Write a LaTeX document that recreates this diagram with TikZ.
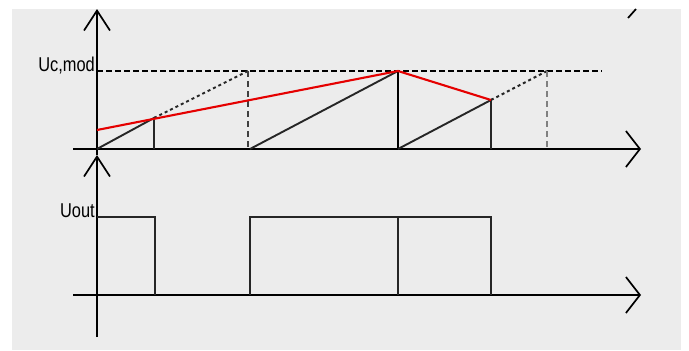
\documentclass[tikz,border=0pt]{standalone}
\usepackage{fontspec}
\newfontfamily\labelfont[FakeStretch=0.82]{Liberation Sans}
\usepackage{tikz}
\usetikzlibrary{arrows.meta}

\begin{document}
\begin{tikzpicture}[
  x=1pt, y=-1pt,
  axis/.style={line width=2.1pt, -{Straight Barb[length=14pt, width=36pt, line width=1.7pt]}},
  yaxis/.style={line width=2.1pt, -{Straight Barb[length=20pt, width=26pt, line width=1.7pt]}},
  wave/.style={line width=1.9pt, black!85},
  level/.style={line width=2pt, dash pattern=on 6pt off 3pt},
  dotline/.style={line width=2pt, black!85, dash pattern=on 3pt off 3pt},
  drop/.style={line width=1.6pt, dash pattern=on 6pt off 4pt},
  modline/.style={line width=2.1pt, red!90!black},
  lbl/.style={font=\labelfont\fontsize{20}{24}\selectfont, inner sep=0pt}
]
  \useasboundingbox (0,0) rectangle (689,351);
  \fill[black!7.5] (12,9) rectangle (681,350);

  % points of the upper chart
  \coordinate (o1) at (97,149);
  \coordinate (t1) at (154,118);
  \coordinate (p1) at (248,71);
  \coordinate (s2) at (250,149);
  \coordinate (t2) at (398,71);
  \coordinate (s3) at (398,149);
  \coordinate (t3) at (491,100);
  \coordinate (p3) at (547,71);
  \coordinate (m0) at (97,130);

  % axes
  \draw[axis] (73,149) -- (641,149);
  \draw[yaxis] (97,155) -- (97,9);
  \draw[axis] (73,295) -- (641,295);
  \draw[yaxis] (97,337) -- (97,155);
  \draw[line width=1.7pt] (628,18) -- (636,9);

  % upper chart
  \draw[level] (97,71) -- (602,71);
  \node[lbl, anchor=base east] (ucmod) at (95,71) {Uc,mod};
  \draw[wave] (o1) -- (t1) -- (t1 |- o1);
  \draw[wave] (s2) -- (t2);
  \draw[line width=2.4pt] (t2) -- (s3);
  \draw[wave] (s3) -- (t3) -- (t3 |- o1);
  \draw[dotline] (t1) -- (p1);
  \draw[dotline] (t3) -- (p3);
  \draw[drop, black!75] (p1) -- (p1 |- o1);
  \draw[drop, black!50] (p3) -- (p3 |- o1);
  \draw[modline] (m0) -- (t2) -- (t3);

  % lower chart
  \node[lbl, anchor=base east] (uout) at (95,217) {Uout};
  \draw[wave] (97,217) -- (155,217) -- (155,295);
  \draw[wave] (250,295) -- (250,217) -- (491,217) -- (491,295);
  \draw[wave] (398,217) -- (398,295);
\end{tikzpicture}
\end{document}
